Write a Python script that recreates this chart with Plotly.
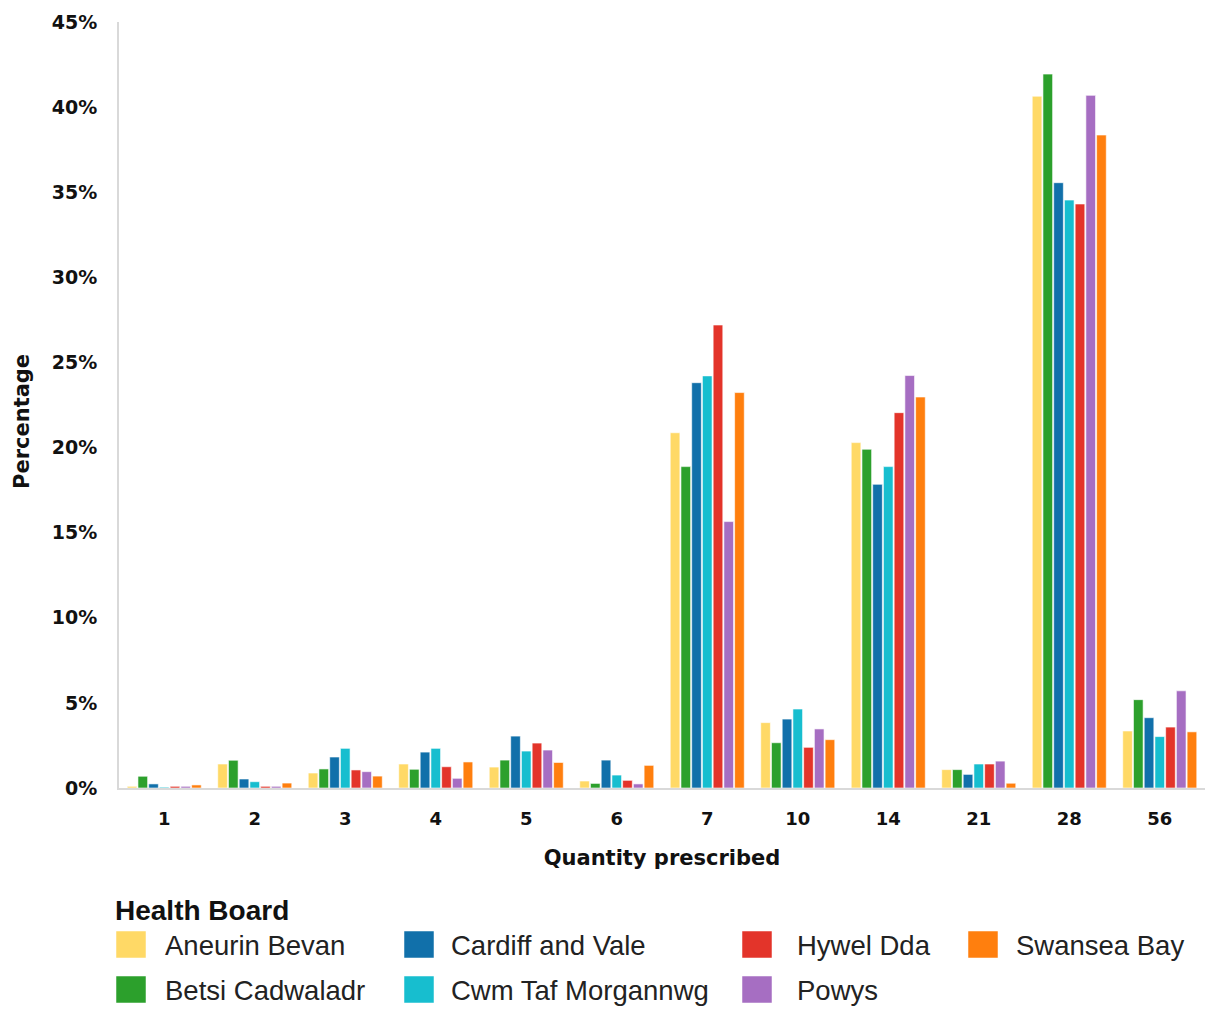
import plotly.graph_objects as go

# Quantity prescribed (category labels on the x axis)
quantities = ["1", "2", "3", "4", "5", "6", "7", "10", "14", "21", "28", "56"]

# Percentage of prescriptions per health board, by quantity
aneurin_bevan = [0.1, 1.41, 0.88, 1.41, 1.23, 0.41, 20.87, 3.84, 20.29, 1.08, 40.64, 3.35]
betsi_cadwaladr = [0.69, 1.63, 1.12, 1.10, 1.64, 0.27, 18.88, 2.66, 19.90, 1.08, 41.94, 5.19]
cardiff_and_vale = [0.24, 0.53, 1.82, 2.11, 3.05, 1.64, 23.81, 4.05, 17.84, 0.80, 35.56, 4.13]
cwm_taf_morgannwg = [0.05, 0.37, 2.33, 2.33, 2.17, 0.76, 24.21, 4.64, 18.88, 1.41, 34.54, 3.02]
hywel_dda = [0.1, 0.1, 1.06, 1.25, 2.64, 0.45, 27.20, 2.39, 22.05, 1.41, 34.31, 3.58]
powys = [0.1, 0.1, 0.96, 0.57, 2.23, 0.24, 15.65, 3.47, 24.23, 1.58, 40.69, 5.71]
swansea_bay = [0.18, 0.29, 0.70, 1.53, 1.50, 1.33, 23.23, 2.84, 22.97, 0.28, 38.36, 3.30]

boards = ["Aneurin Bevan", "Betsi Cadwaladr", "Cardiff and Vale", "Cwm Taf Morgannwg",
          "Hywel Dda", "Powys", "Swansea Bay"]
series = [aneurin_bevan, betsi_cadwaladr, cardiff_and_vale, cwm_taf_morgannwg,
          hywel_dda, powys, swansea_bay]
colors = ["#FFD966", "#2CA02C", "#1170AA", "#17BECF", "#E3342A", "#A66EC2", "#FF7F0E"]

y_ticks = [0, 5, 10, 15, 20, 25, 30, 35, 40, 45]
y_tick_labels = [f"{v}%" for v in y_ticks]

W, H = 1206, 1010
ML, MR, MT, MB = 119, 1, 22, 222

fig = go.Figure()
for name, vals, col in zip(boards, series, colors):
    fig.add_trace(go.Bar(
        x=quantities, y=vals, name=name,
        marker=dict(color=col, line=dict(color="rgba(255,255,255,0.6)", width=1)),
        showlegend=False,
    ))

axis_font = "DejaVu Sans"
legend_font = "Liberation Sans"

fig.update_layout(
    width=W, height=H,
    margin=dict(l=ML, r=MR, t=MT, b=MB),
    paper_bgcolor="white", plot_bgcolor="white",
    barmode="group", bargap=0.17, bargroupgap=0.1,
    font=dict(family=axis_font, color="#111111"),
    xaxis=dict(
        type="category", range=[-0.5, 11.5],
        showline=True, linecolor="#d9d9d9", linewidth=2,
        showgrid=False, ticks="", ticklabelstandoff=13,
        tickfont=dict(family=axis_font, size=18, color="#111111", weight="bold"),
        title=dict(text="<b>Quantity prescribed</b>",
                   font=dict(family=axis_font, size=21, color="#111111"), standoff=23),
    ),
    yaxis=dict(
        range=[0, 45], tickvals=y_ticks, ticktext=y_tick_labels,
        showline=True, linecolor="#d9d9d9", linewidth=2,
        showgrid=False, zeroline=False, ticks="", ticklabelstandoff=16,
        tickfont=dict(family=axis_font, size=19, color="#111111", weight="bold"),
    ),
)

# Legend drawn as swatches + labels in four columns
pw = W - ML - MR
ph = H - MT - MB


def px_x(px):
    return (px - ML) / pw


def px_y(py):
    return (H - MB - py) / ph


# Y-axis title
fig.add_annotation(
    x=px_x(22), y=px_y(422), xref="paper", yref="paper",
    text="<b>Percentage</b>", showarrow=False, textangle=-90,
    xanchor="center", yanchor="middle",
    font=dict(family=axis_font, size=21, color="#111111"),
)

fig.add_annotation(
    x=px_x(113), y=px_y(910), xref="paper", yref="paper",
    text="<b>Health Board</b>", showarrow=False, xanchor="left", yanchor="middle",
    font=dict(family=legend_font, size=28, color="#111111"),
)

swatch_x = [116, 404, 742, 968]
label_x = [163, 449, 795, 1014]
row_y = [945, 990]
for i, (name, col) in enumerate(zip(boards, colors)):
    c, r = divmod(i, 2)
    cy = row_y[r]
    fig.add_shape(
        type="rect", xref="paper", yref="paper",
        x0=px_x(swatch_x[c]), x1=px_x(swatch_x[c] + 30),
        y0=px_y(cy - 14), y1=px_y(cy + 13),
        fillcolor=col, line=dict(color="rgba(255,255,255,0.5)", width=1),
    )
    fig.add_annotation(
        x=px_x(label_x[c]), y=px_y(cy), xref="paper", yref="paper",
        text=name, showarrow=False, xanchor="left", yanchor="middle",
        font=dict(family=legend_font, size=27.5, color="#222222"),
    )

fig.write_html("out.html")
